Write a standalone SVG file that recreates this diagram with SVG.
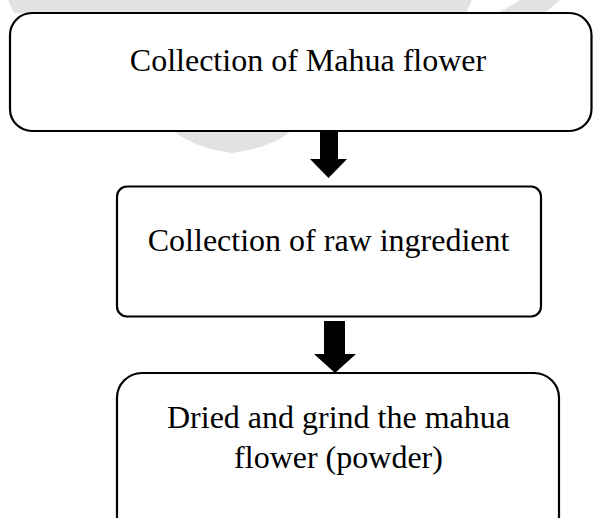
<svg xmlns="http://www.w3.org/2000/svg" width="593" height="518" viewBox="0 0 593 518">
  <style>
    .box { fill: #ffffff; stroke: #000000; stroke-width: 2.2; }
    .lbl { font-family: "Liberation Serif", "Times New Roman", serif; font-size: 32px; fill: #000000; text-anchor: middle; }
    .arrow { fill: #000000; stroke: none; }
    .wm { fill: #e2e2e2; stroke: none; }
  </style>
  <rect x="0" y="0" width="593" height="518" fill="#ffffff"/>
  <g id="watermark">
    <polygon class="wm" points="8,0 472,0 466,13 14,13"/>
    <polygon class="wm" points="520,0 560,0 545,13 498,13"/>
    <path class="wm" d="M175,132 L290,132 Q270,148 232,153 Q195,148 175,132 Z"/>
  </g>
  <g id="connectors">
    <polygon class="arrow" points="320,131 338,131 338,159 347,159 328.5,178 310,159 320,159"/>
    <polygon class="arrow" points="324,321 345,321 345,354 356,354 335,373 314,354 324,354"/>
  </g>
  <g id="node1">
    <rect class="box" x="10" y="13" width="581.5" height="118" rx="22" ry="22"/>
    <text class="lbl" x="308" y="71">Collection of Mahua flower</text>
  </g>
  <g id="node2">
    <rect class="box" x="117" y="186.5" width="424" height="130" rx="10" ry="10"/>
    <text class="lbl" x="328.6" y="251">Collection of raw ingredient</text>
  </g>
  <g id="node3">
    <rect class="box" x="117" y="373" width="442" height="170" rx="25" ry="25"/>
    <text class="lbl" x="338.5" y="428">Dried and grind the mahua</text>
    <text class="lbl" x="338.5" y="468">flower (powder)</text>
  </g>
</svg>
